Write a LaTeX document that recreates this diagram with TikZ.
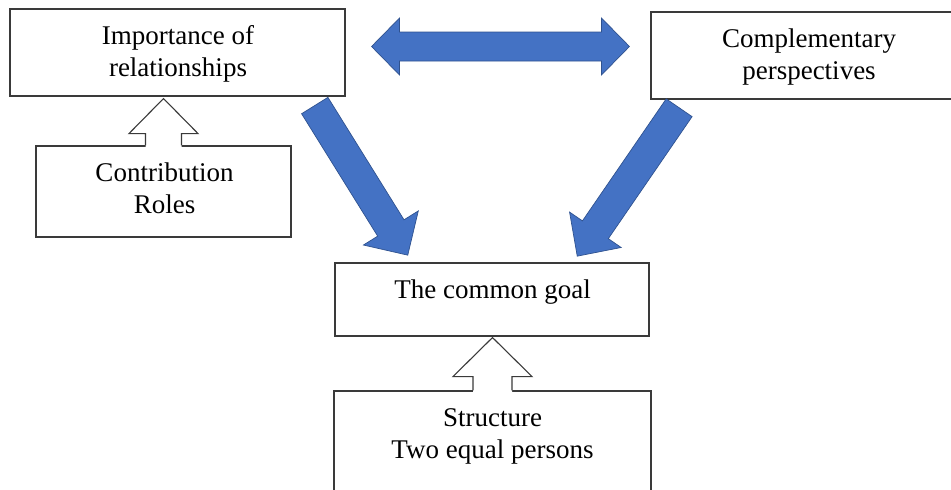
\documentclass[tikz,border=0pt]{standalone}
\usepackage{fontspec}
\setmainfont{Liberation Serif}
\usetikzlibrary{calc}
\definecolor{bfill}{HTML}{4472C4}
\definecolor{bline}{HTML}{2F528F}
\definecolor{boxline}{HTML}{3A3A3A}
% #1 tail, #2 tip, #3 head length, #4 shaft half width, #5 head half width
\newcommand\mkblockarrow[5]{%
  \coordinate (ba-n) at ($#2!#3!#1$);
  \path[bluearrow] ($#1!#4!90:#2$) -- ($(ba-n)!#4!90:#2$) -- ($(ba-n)!#5!90:#2$) -- #2
    -- ($(ba-n)!#5!-90:#2$) -- ($(ba-n)!#4!-90:#2$) -- ($#1!#4!-90:#2$) -- cycle;
}
\newcommand\mkhollowarrow[5]{%
  \coordinate (ha-n) at ($#2!#3!#1$);
  \coordinate (ha-t) at ($#1!-2pt!#2$);
  \fill[white] ($(ha-t)!#4!90:#2$) -- ($(ha-n)!#4!90:#2$) -- ($(ha-n)!#5!90:#2$) -- #2
    -- ($(ha-n)!#5!-90:#2$) -- ($(ha-n)!#4!-90:#2$) -- ($(ha-t)!#4!-90:#2$) -- cycle;
  \draw[hollowline] ($#1!#4!90:#2$) -- ($(ha-n)!#4!90:#2$) -- ($(ha-n)!#5!90:#2$) -- #2
    -- ($(ha-n)!#5!-90:#2$) -- ($(ha-n)!#4!-90:#2$) -- ($#1!#4!-90:#2$);
}
% #1 left tip, #2 right tip, #3 head length, #4 shaft half width, #5 head half width
\newcommand\mkdoublearrow[5]{%
  \coordinate (da-l) at ($#1!#3!#2$);
  \coordinate (da-r) at ($#2!#3!#1$);
  \path[bluearrow] #1 -- ($(da-l)!#5!90:#2$) -- ($(da-l)!#4!90:#2$) -- ($(da-r)!#4!-90:#1$)
    -- ($(da-r)!#5!-90:#1$) -- #2 -- ($(da-r)!#5!90:#1$) -- ($(da-r)!#4!90:#1$)
    -- ($(da-l)!#4!-90:#2$) -- ($(da-l)!#5!-90:#2$) -- cycle;
}
\begin{document}
\begin{tikzpicture}[x=1pt,y=-1pt,
  box/.style={draw=boxline, line width=1.1pt, fill=white, inner sep=0pt},
  txt/.style={font=\fontsize{27}{31.5}\selectfont, align=center, anchor=base, inner sep=0pt},
  bluearrow/.style={fill=bfill, draw=bline, line width=0.7pt, line join=miter},
  hollowline/.style={draw=boxline, line width=1.1pt, line join=miter}]
\useasboundingbox (0,0) rectangle (951,490);
\clip (0,0) rectangle (951,490);

% boxes
\node[box, minimum width=335pt, minimum height=87pt] (imp) at (177.5,52.5) {};
\node[box, minimum width=317pt, minimum height=87pt] (comp) at (809.5,55.5) {};
\node[box, minimum width=255pt, minimum height=91pt] (contrib) at (163.5,191.5) {};
\node[box, minimum width=314pt, minimum height=73pt] (goal) at (492,299.5) {};
\node[box, minimum width=317pt, minimum height=140pt] (struct) at (492.5,461) {};

% hollow arrows
\coordinate (hA) at ($(contrib.north |- imp.south)+(0,2)$);
\mkhollowarrow{(contrib.north)}{(hA)}{35pt}{18pt}{34.5pt}
\coordinate (hB) at ($(struct.north |- goal.south)+(0,1)$);
\mkhollowarrow{(struct.north)}{(hB)}{39pt}{19.5pt}{39.5pt}

% texts (base anchor = baseline of the last line)
\node[txt] (timp) at (178,76) {Importance of\\relationships};
\node[txt] (tcomp) at (809,79) {Complementary\\perspectives};
\node[txt] (tcontrib) at (164.5,213) {Contribution\\Roles};
\node[txt] (tgoal) at (492.5,298) {The common goal};
\node[txt] (tstruct) at (492.5,458) {Structure\\Two equal persons};

% blue arrows
\coordinate (dl) at ($(imp.east)+(26,-6)$);
\coordinate (dr) at ($(comp.west)+(-21,-9)$);
\mkdoublearrow{(dl)}{(dr)}{28pt}{14.5pt}{28.5pt}

\coordinate (l1) at ($(imp.south east)+(-30.8,9)$);
\coordinate (l2) at ($(goal.north west)+(73.3,-7.3)$);
\mkblockarrow{(l1)}{(l2)}{32pt}{15.5pt}{32.3pt}

\coordinate (r1) at ($(comp.south west)+(28.7,8.2)$);
\coordinate (r2) at ($(goal.north east)+(-72.3,-6.3)$);
\mkblockarrow{(r1)}{(r2)}{32pt}{15.7pt}{31.3pt}
\end{tikzpicture}
\end{document}
